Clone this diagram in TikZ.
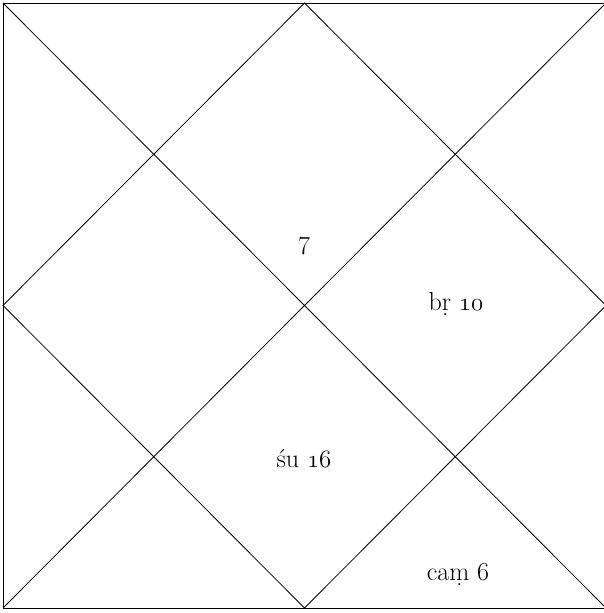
\documentclass[tikz,border=0pt]{standalone}
\usepackage{fontspec}
\newcommand{\osdigits}[1]{{\usefont{OML}{cmm}{m}{it}#1}}

\begin{document}
\begin{tikzpicture}[x=1pt, y=1pt, line width=0.8pt, house/.style={inner sep=0pt, font=\fontsize{26}{30}\selectfont}]
            \useasboundingbox (0,0) rectangle (603,613);
            \coordinate (tl) at (3,610); \coordinate (tr) at (606,610); \coordinate (br) at (606,5); \coordinate (bl) at (3,5);
            \coordinate (t) at (304.5,610); \coordinate (r) at (606,307.5); \coordinate (b) at (304.5,5); \coordinate (l) at (3,307.5);
            \draw (tl) -- (tr) -- (br) -- (bl) -- cycle;
            \draw (tl) -- (br) (tr) -- (bl);
            \draw (t) -- (r) -- (b) -- (l) -- cycle;% Diamond
            \node[house] (h1) at (304,367) {7}; \node[house] (h12) at (456,309) {bṛ \osdigits{10}};
            \node[house] (h4) at (304,154) {śu \osdigits{16}}; \node[house] (h11) at (458,38) {caṃ 6};
        \end{tikzpicture}
\end{document}
